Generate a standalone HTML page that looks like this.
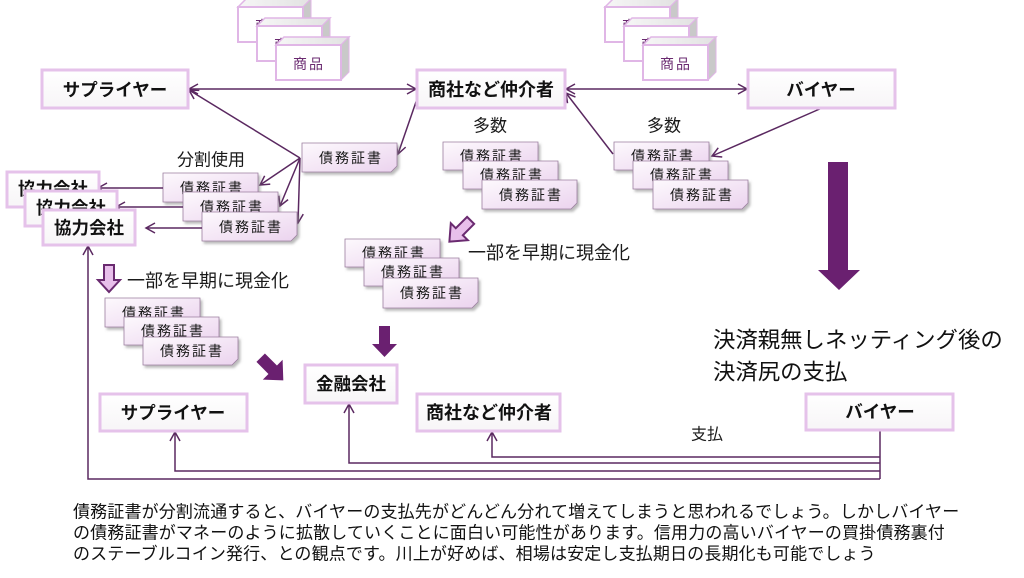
<!DOCTYPE html>
<html><head><meta charset="utf-8">
<style>
html,body{margin:0;padding:0;background:#fff;}
svg{display:block;}
text{font-family:"Liberation Sans","Noto Sans CJK JP",sans-serif;}
.mb{fill:url(#gm);stroke:#e5c2ea;stroke-width:3;}
.mt{font-weight:bold;font-size:17.5px;fill:#111;text-anchor:middle;dominant-baseline:central;}
.db{fill:url(#gd);stroke:#9c7fa0;stroke-width:0.8;filter:url(#sh);}
.dt{font-size:14px;letter-spacing:2px;fill:#1a1a1a;text-anchor:middle;dominant-baseline:central;}
.ln{fill:none;stroke:#5a2860;stroke-width:1.5;}
.lb{font-size:17px;fill:#1a1a1a;dominant-baseline:central;}
.gf{fill:#fff;stroke:#e0b6e6;stroke-width:2;}
.gt{fill:url(#gtop);stroke:#e0b6e6;stroke-width:1.5;}
.gr{fill:#c9c9c9;stroke:#e0b6e6;stroke-width:1;}
.gx{font-size:14px;letter-spacing:2px;fill:#6a2a70;text-anchor:middle;dominant-baseline:central;}
.pt{font-size:17px;fill:#111;dominant-baseline:central;letter-spacing:0.15px;}
</style></head>
<body>
<svg width="1024" height="578" viewBox="0 0 1024 578" xmlns="http://www.w3.org/2000/svg">
<defs>
<linearGradient id="gm" x1="0" y1="0" x2="0" y2="1"><stop offset="0" stop-color="#ffffff"/><stop offset="1" stop-color="#f7f5f7"/></linearGradient>
<linearGradient id="gd" x1="0" y1="0" x2="1" y2="1"><stop offset="0" stop-color="#fdf9fd"/><stop offset="1" stop-color="#ebd3ee"/></linearGradient>
<linearGradient id="gtop" x1="0" y1="0" x2="1" y2="0"><stop offset="0" stop-color="#f6f6f6"/><stop offset="1" stop-color="#e2e2e2"/></linearGradient>
<filter id="sh" x="-10%" y="-10%" width="130%" height="140%"><feDropShadow dx="2" dy="2.5" stdDeviation="1.3" flood-color="#777" flood-opacity="0.5"/></filter>
<marker id="a" markerWidth="12" markerHeight="12" refX="10" refY="6" orient="auto-start-reverse" markerUnits="userSpaceOnUse"><path d="M1,1 L10,6 L1,11" fill="none" stroke="#5a2860" stroke-width="1.5"/></marker>
</defs>

<!-- goods boxes left -->
<g>
<polygon class="gt" points="238,7 246,-1 311,-1 303,7"/><polygon class="gr" points="303,7 311,-1 311,34 303,42"/><rect class="gf" x="238" y="7" width="65" height="35"/><text class="gx" x="271" y="26">商品</text>
<polygon class="gt" points="257,26 265,18 330,18 322,26"/><polygon class="gr" points="322,26 330,18 330,53 322,61"/><rect class="gf" x="257" y="26" width="65" height="35"/><text class="gx" x="290" y="45">商品</text>
<polygon class="gt" points="276,45 284,37 349,37 341,45"/><polygon class="gr" points="341,45 349,37 349,72 341,80"/><rect class="gf" x="276" y="45" width="65" height="35"/><text class="gx" x="309" y="64">商品</text>
</g>
<!-- goods boxes right -->
<g>
<polygon class="gt" points="605,7 613,-1 678,-1 670,7"/><polygon class="gr" points="670,7 678,-1 678,34 670,42"/><rect class="gf" x="605" y="7" width="65" height="35"/><text class="gx" x="638" y="26">商品</text>
<polygon class="gt" points="624,26 632,18 697,18 689,26"/><polygon class="gr" points="689,26 697,18 697,53 689,61"/><rect class="gf" x="624" y="26" width="65" height="35"/><text class="gx" x="657" y="45">商品</text>
<polygon class="gt" points="643,45 651,37 716,37 708,45"/><polygon class="gr" points="708,45 716,37 716,72 708,80"/><rect class="gf" x="643" y="45" width="65" height="35"/><text class="gx" x="676" y="64">商品</text>
</g>

<!-- connectors top -->
<line class="ln" x1="189" y1="89" x2="416" y2="89" marker-start="url(#a)" marker-end="url(#a)"/>
<line class="ln" x1="566" y1="89" x2="747" y2="89" marker-start="url(#a)" marker-end="url(#a)"/>
<line class="ln" x1="300" y1="158" x2="189" y2="90" marker-end="url(#a)"/>
<line class="ln" x1="417" y1="99" x2="398" y2="154" marker-end="url(#a)"/>
<line class="ln" x1="300" y1="158" x2="260" y2="185" marker-end="url(#a)"/>
<line class="ln" x1="300" y1="158" x2="280" y2="206" marker-end="url(#a)"/>
<line class="ln" x1="300" y1="158" x2="298" y2="223" marker-end="url(#a)"/>
<line class="ln" x1="613" y1="154" x2="566" y2="93" marker-end="url(#a)"/>
<line class="ln" x1="822" y1="108" x2="712" y2="156" marker-end="url(#a)"/>

<!-- bottom connectors -->
<polyline class="ln" points="880,431 880,479"/>
<polyline class="ln" points="880,457 492,457 492,432" marker-end="url(#a)"/>
<polyline class="ln" points="880,463 349,463 349,404" marker-end="url(#a)"/>
<polyline class="ln" points="880,471 175,471 175,432" marker-end="url(#a)"/>
<polyline class="ln" points="880,479 88,479 88,246" marker-end="url(#a)"/>

<!-- main boxes -->
<rect class="mb" x="42" y="70" width="146" height="38"/><text class="mt" x="115" y="90">サプライヤー</text>
<rect class="mb" x="417" y="70" width="148" height="38"/><text class="mt" x="491" y="90" style="font-size:18px">商社など仲介者</text>
<rect class="mb" x="748" y="70" width="147" height="38"/><text class="mt" x="821" y="90">バイヤー</text>

<!-- single doc -->
<path class="db" d="M302,143 H397 V166 L391,172 H302 Z"/><text class="dt" x="351" y="158">債務証書</text>

<!-- 分割使用 docs -->
<text class="lb" x="177" y="160">分割使用</text>
<path class="db" d="M163,173 H258 V196 L252,202 H163 Z"/><text class="dt" x="212" y="188">債務証書</text>
<path class="db" d="M183,192 H278 V215 L272,221 H183 Z"/><text class="dt" x="232" y="207">債務証書</text>
<path class="db" d="M202,212 H297 V235 L291,241 H202 Z"/><text class="dt" x="251" y="227">債務証書</text>

<line class="ln" x1="163" y1="188" x2="98" y2="188" marker-end="url(#a)"/>
<line class="ln" x1="183" y1="207" x2="116" y2="207" marker-end="url(#a)"/>
<line class="ln" x1="202" y1="228" x2="146" y2="228" marker-end="url(#a)"/>

<!-- 協力会社 -->
<rect class="mb" x="7" y="172" width="92" height="35"/><text class="mt" x="53" y="189">協力会社</text>
<rect class="mb" x="25" y="191" width="92" height="35"/><text class="mt" x="71" y="208">協力会社</text>
<rect class="mb" x="43" y="210" width="92" height="35"/><text class="mt" x="89" y="228">協力会社</text>

<!-- 多数 groups -->
<text class="lb" x="473" y="126">多数</text>
<path class="db" d="M443,142 H538 V164 L532,170 H443 Z"/><text class="dt" x="492" y="156">債務証書</text>
<path class="db" d="M463,161 H558 V183 L552,189 H463 Z"/><text class="dt" x="512" y="175">債務証書</text>
<path class="db" d="M482,180 H577 V203 L571,209 H482 Z"/><text class="dt" x="531" y="195">債務証書</text>

<text class="lb" x="647" y="126">多数</text>
<path class="db" d="M614,142 H709 V164 L703,170 H614 Z"/><text class="dt" x="663" y="156">債務証書</text>
<path class="db" d="M633,161 H728 V183 L722,189 H633 Z"/><text class="dt" x="682" y="175">債務証書</text>
<path class="db" d="M653,180 H748 V203 L742,209 H653 Z"/><text class="dt" x="702" y="195">債務証書</text>

<!-- middle group -->
<polygon points="-5,-15 5,-15 5,1 12,1 0,15 -12,1 -5,1" fill="#e8bfeb" stroke="#6a2a70" stroke-width="2" transform="translate(460,231) rotate(45)"/>
<text class="lb" x="468" y="253" style="font-size:18px">一部を早期に現金化</text>
<path class="db" d="M345,239 H440 V261 L434,267 H345 Z"/><text class="dt" x="394" y="253">債務証書</text>
<path class="db" d="M364,258 H459 V280 L453,286 H364 Z"/><text class="dt" x="413" y="272">債務証書</text>
<path class="db" d="M383,278 H478 V302 L472,308 H383 Z"/><text class="dt" x="432" y="293">債務証書</text>

<!-- left lower group -->
<polygon points="104,265 114,265 114,280 120,280 109,292 98,280 104,280" fill="#e8bfeb" stroke="#6a2a70" stroke-width="2"/>
<text class="lb" x="127" y="281" style="font-size:18px">一部を早期に現金化</text>
<path class="db" d="M105,298 H200 V321 L194,327 H105 Z"/><text class="dt" x="154" y="313">債務証書</text>
<path class="db" d="M124,317 H219 V339 L213,345 H124 Z"/><text class="dt" x="173" y="331">債務証書</text>
<path class="db" d="M143,337 H238 V359 L232,365 H143 Z"/><text class="dt" x="192" y="351">債務証書</text>

<!-- dark arrows -->
<polygon points="-6,-16 6,-16 6,1 14,1 0,16 -14,1 -6,1" fill="#6a2070" transform="translate(272,369) rotate(-45)"/>
<polygon points="379,326 390,326 390,344 397,344 384.5,357 372,344 379,344" fill="#6a2070"/>
<polygon points="828,162 848,162 848,270 860,270 839,290 818,270 828,270" fill="#6a2070"/>

<!-- 金融会社 -->
<rect class="mb" x="305" y="365" width="92" height="38"/><text class="mt" x="351" y="384">金融会社</text>

<!-- bottom row -->
<rect class="mb" x="100" y="394" width="147" height="37"/><text class="mt" x="173" y="413">サプライヤー</text>
<rect class="mb" x="417" y="394" width="143" height="37"/><text class="mt" x="489" y="413" style="font-size:18px">商社など仲介者</text>
<rect class="mb" x="806" y="394" width="147" height="36"/><text class="mt" x="880" y="412">バイヤー</text>

<text class="lb" x="691" y="435" style="font-size:16px">支払</text>

<text x="713" y="340" style="font-size:22.4px;fill:#111;dominant-baseline:central">決済親無しネッティング後の</text>
<text x="713" y="372" style="font-size:22.4px;fill:#111;dominant-baseline:central">決済尻の支払</text>

<!-- bottom paragraph -->
<text class="pt" x="73" y="512">債務証書が分割流通すると、バイヤーの支払先がどんどん分れて増えてしまうと思われるでしょう。しかしバイヤー</text>
<text class="pt" x="73" y="533">の債務証書がマネーのように拡散していくことに面白い可能性があります。信用力の高いバイヤーの買掛債務裏付</text>
<text class="pt" x="73" y="554">のステーブルコイン発行、との観点です。川上が好めば、相場は安定し支払期日の長期化も可能でしょう</text>
</svg>
</body></html>
